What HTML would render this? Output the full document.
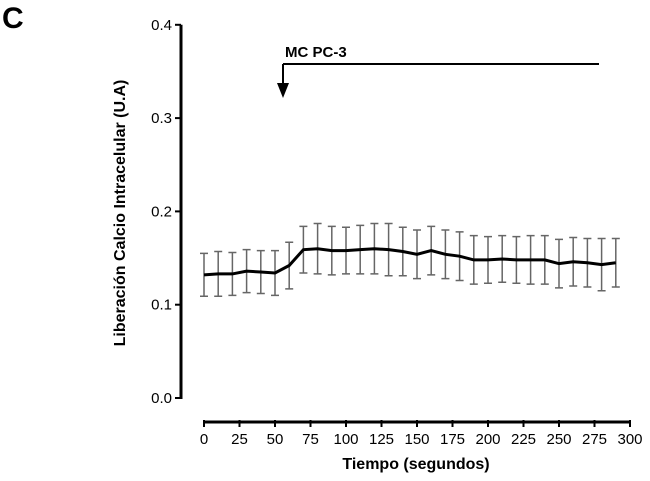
<!DOCTYPE html>
<html><head><meta charset="utf-8"><style>
body{margin:0;background:#fff;width:650px;height:476px;overflow:hidden}
svg text{font-family:"Liberation Sans",Arial,sans-serif}
</style></head><body>
<svg id="chart" width="650" height="476">
<text x="2" y="28" font-size="30" font-weight="bold">C</text>
<text transform="translate(125,213) rotate(-90)" text-anchor="middle" font-size="16" font-weight="bold">Liberación Calcio Intracelular  (U.A)</text>
<text x="416" y="469" text-anchor="middle" font-size="16" font-weight="bold">Tiempo (segundos)</text>
<g id="yaxis"></g>
<g id="xaxis"></g>
<g id="bars"></g>
<path id="line" fill="none" stroke="#000" stroke-width="3"/>
<g>
<text x="285" y="57" font-size="15" font-weight="bold">MC PC-3</text>
<path d="M283,64 H599 M283,64 V86" stroke="#000" stroke-width="2" fill="none"/>
<path d="M277,83 L289,83 L283,98 Z" fill="#000"/>
</g>
</svg>
<script>
const times=[0,10,20,30,40,50,60,70,80,90,100,110,120,130,140,150,160,170,180,190,200,210,220,230,240,250,260,270,280,290];
const means=[0.132,0.133,0.133,0.136,0.135,0.134,0.142,0.159,0.160,0.158,0.158,0.159,0.160,0.159,0.157,0.154,0.158,0.154,0.152,0.148,0.148,0.149,0.148,0.148,0.148,0.144,0.146,0.145,0.143,0.145];
const errs=[0.023,0.024,0.023,0.023,0.023,0.024,0.025,0.025,0.027,0.026,0.025,0.026,0.027,0.028,0.026,0.026,0.026,0.026,0.026,0.026,0.025,0.025,0.025,0.026,0.026,0.026,0.026,0.026,0.028,0.026];
const yTicks=[0.0,0.1,0.2,0.3,0.4];
const xTicks=[0,25,50,75,100,125,150,175,200,225,250,275,300];
const NS="http://www.w3.org/2000/svg";
const xS=t=>204+t*1.42;
const yS=v=>398-v*933;
function mk(tag,attrs,parent){const e=document.createElementNS(NS,tag);for(const k in attrs)e.setAttribute(k,attrs[k]);parent.appendChild(e);return e;}
const ya=document.getElementById('yaxis'),xa=document.getElementById('xaxis'),bg=document.getElementById('bars');
mk('line',{x1:181,x2:181,y1:yS(0.4),y2:yS(0)+1,stroke:'#000','stroke-width':3},ya);
yTicks.forEach(v=>{
 const l=mk('line',{x1:175,x2:181,y1:yS(v),y2:yS(v),stroke:'#000','stroke-width':2},ya);
 
 
 const t=mk('text',{x:172,y:yS(v)+5,'text-anchor':'end','font-size':15},ya);t.textContent=v.toFixed(1);
 
 
});
mk('line',{x1:xS(0)-1,x2:xS(300)+1,y1:422,y2:422,stroke:'#000','stroke-width':3},xa);
xTicks.forEach(v=>{
 const l=mk('line',{x1:xS(v),x2:xS(v),y1:420,y2:427,stroke:'#000','stroke-width':2},xa);
 
 
 const t=mk('text',{x:xS(v),y:444,'text-anchor':'middle','font-size':15},xa);t.textContent=v;
 
 
});
let d='';
times.forEach((t,i)=>{
 const x=xS(t),y1=yS(means[i]+errs[i]),y2=yS(means[i]-errs[i]);
 const p=mk('path',{d:`M${x},${y1}V${y2}M${x-4},${y1}H${x+4}M${x-4},${y2}H${x+4}`,stroke:'#666','stroke-width':1.5,fill:'none'},bg);
 
 
 d+=(i?'L':'M')+x+','+yS(means[i]);
});
document.getElementById('line').setAttribute('d',d);
</script>
</body></html>
